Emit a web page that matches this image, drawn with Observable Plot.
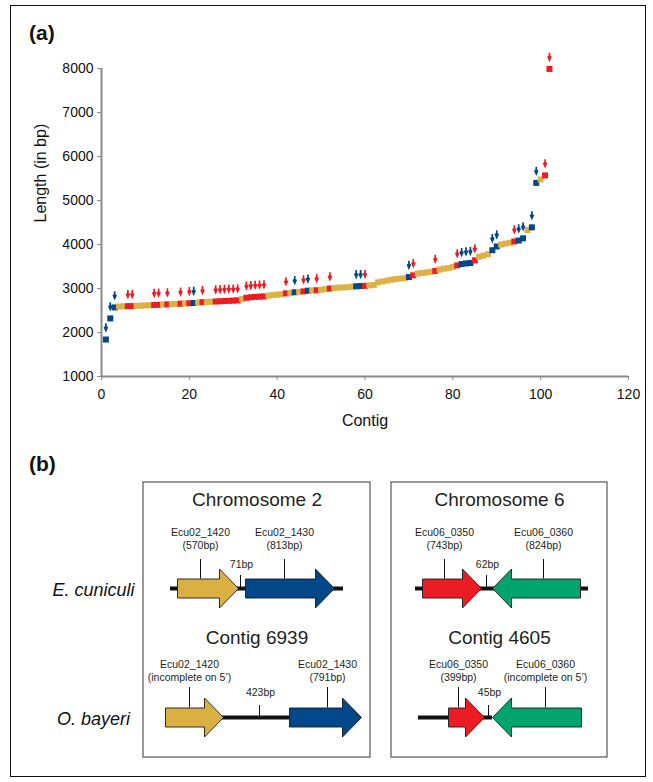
<!DOCTYPE html>
<html><head><meta charset="utf-8">
<script src="https://cdn.jsdelivr.net/npm/d3@7"></script>
<script src="https://cdn.jsdelivr.net/npm/@observablehq/plot@0.6"></script>
<style>
html,body{margin:0;padding:0;background:#fff;}
#fig{position:relative;width:653px;height:782px;font-family:"Liberation Sans",Arial,Helvetica,sans-serif;overflow:hidden;background:#fff}
#frame{position:absolute;left:10px;top:5px;width:636px;height:772px;border:1.5px solid #111;box-sizing:border-box}
.plab{position:absolute;font-weight:bold;font-size:21px;color:#111;line-height:1}
#pa{position:absolute;left:0;top:0}
#pb{position:absolute;left:0;top:440px}
</style></head>
<body>
<div id="fig">
  <div id="frame"></div>
  <div class="plab" style="left:29px;top:22px">(a)</div>
  <div class="plab" style="left:29px;top:453px">(b)</div>
  <div id="pa"></div>
  <div id="pb"></div>
</div>
<script>
// ---------- Panel (a) data ----------
const contigLength = [
  1840,2320,2570,2590,2595,2600,2600,2605,2610,2615,
  2620,2625,2630,2635,2640,2645,2650,2655,2660,2665,
  2670,2680,2690,2695,2700,2705,2710,2715,2720,2725,
  2730,2760,2790,2800,2810,2815,2820,2840,2850,2860,
  2870,2890,2900,2915,2925,2935,2950,2955,2960,2970,
  2985,3000,3010,3020,3025,3030,3040,3050,3055,3060,
  3070,3080,3140,3160,3180,3200,3215,3225,3235,3260,
  3300,3340,3355,3365,3380,3400,3430,3450,3465,3490,
  3525,3555,3570,3580,3640,3720,3750,3780,3870,3955,
  4000,4020,4040,4070,4090,4140,4330,4390,5400,5480,
  5570,7990];
const contigClass = [
  "B","B","B","Y","Y","R","R","Y","Y","Y",
  "Y","R","R","Y","R","Y","Y","R","Y","R",
  "B","Y","R","Y","Y","R","R","R","R","R",
  "R","Y","R","R","R","R","R","Y","Y","Y",
  "Y","R","Y","B","Y","R","B","Y","R","Y",
  "Y","R","Y","Y","Y","Y","Y","B","B","R",
  "Y","Y","Y","Y","Y","Y","Y","Y","Y","B",
  "R","Y","Y","Y","Y","R","Y","Y","Y","Y",
  "R","B","B","B","R","Y","Y","Y","B","B",
  "Y","Y","Y","R","B","B","Y","B","B","Y",
  "R","R"];
const classNames = ["Y","R","B"];
const classColors = ["#DDB244","#EC1C24","#00488A"];
const xTicks = [0,20,40,60,80,100,120];
const yTicks = [1000,2000,3000,4000,5000,6000,7000,8000];

const FONT = '"Liberation Sans", Arial, Helvetica, sans-serif';

const pts = contigLength.map((v,i)=>({contig:i+1, length:v, cls:contigClass[i]}));

// down-pointing marker arrow
const arrowSym = {draw(ctx){
  ctx.moveTo(-0.8,-5.2); ctx.lineTo(0.8,-5.2); ctx.lineTo(0.9,-2.2);
  ctx.lineTo(2.3,-1.2); ctx.lineTo(0,4.2); ctx.lineTo(-2.3,-1.2);
  ctx.lineTo(-0.9,-2.2); ctx.closePath();
}};

const pa = Plot.plot({
  width:653, height:440, marginLeft:101, marginRight:25, marginTop:68, marginBottom:64,
  style:{fontFamily:FONT, fontSize:"14px", color:"#111", background:"transparent"},
  x:{domain:[0,120]},
  y:{domain:[1000,8000]},
  color:{domain:classNames, range:classColors},
  marks:[
    Plot.axisX({ticks:xTicks, tickSize:4, tickPadding:9, stroke:"#8a8a8a", fontSize:14, label:null}),
    Plot.axisY({ticks:yTicks, tickSize:4, tickPadding:4, stroke:"#8a8a8a", fontSize:14, label:null, tickFormat:d=>String(d)}),
    Plot.ruleX([0],{stroke:"#8a8a8a", strokeWidth:2}),
    Plot.ruleY([1000],{stroke:"#8a8a8a", strokeWidth:2}),
    Plot.dot(pts,{x:"contig", y:"length", fill:"cls", symbol:"square", r:3.4}),
    Plot.dot(pts.filter(d=>d.cls!=="Y"),{x:"contig", y:"length", fill:"cls", symbol:arrowSym, r:3, dy:-11}),
    Plot.text(["Contig"],{frameAnchor:"bottom", dy:49, fontSize:16, fill:"#111"}),
    Plot.text(["Length (in bp)"],{frameAnchor:"left", rotate:-90, dx:-61, fontSize:16, fill:"#111"})
  ]
});
document.getElementById("pa").appendChild(pa);

// ---------- Panel (b) data (positions along each track, diagram units) ----------
const trackTitle = ["Chromosome 2","Chromosome 6","Contig 6939","Contig 4605"];
const trackBox = [0,1,0,1];
const trackRow = [0,0,1,1];
const backboneFrom = [170,415,222,418];
const backboneTo = [343,588,289,492];
const gapLabel = ["71bp","62bp","423bp","45bp"];
const gapAt = [240,486,259,488];
const geneName = ["Ecu02_1420","Ecu02_1430","Ecu06_0350","Ecu06_0360","Ecu02_1420","Ecu02_1430","Ecu06_0350","Ecu06_0360"];
const geneSize = ["(570bp)","(813bp)","(743bp)","(824bp)","(incomplete on 5\u2019)","(791bp)","(399bp)","(incomplete on 5\u2019)"];
const geneTrack = [0,0,1,1,2,2,3,3];
const geneFrom = [177,245,422,492,165,289,448,492];
const geneTo = [238,334,481,580,223,361,484,581];
const geneStrand = [1,1,1,-1,1,1,1,-1];
const geneStem = [200,284,444,543,189,327,458,545];
const geneFamily = ["1420","1430","0350","0360","1420","1430","0350","0360"];
const familyNames = ["1420","1430","0350","0360"];
const familyColors = ["#DBB043","#00488A","#EC1C24","#00A46C"];
const species = ["E. cuniculi","O. bayeri"];
const boxLeft = [143,391];
const boxRight = [370,607];

// layout (vertical positions per row)
const rowCenter = [588,717];
const titleBase = [505,643];
const nameBase = [535,667];
const sizeBase = [548,680];
const gapBase = [567,695];
const stemTop = [559,687];
const gapTickTop = [575,705];
const boxTop = 482, boxBottom = 757;
const speciesX = 93, speciesBase = [595,724];
const BODY = 9.5, HEAD = 19.5, HEADLEN = 19;

const tracks = trackTitle.map((t,i)=>({
  title:t, row:trackRow[i], box:trackBox[i],
  cx:(boxLeft[trackBox[i]]+boxRight[trackBox[i]])/2,
  from:backboneFrom[i], to:backboneTo[i], gap:gapLabel[i], gapAt:gapAt[i]
}));
const genes = geneName.map((n,i)=>({
  name:n, size:geneSize[i], track:geneTrack[i], row:trackRow[geneTrack[i]],
  from:geneFrom[i], to:geneTo[i], strand:geneStrand[i], stem:geneStem[i],
  color:familyColors[familyNames.indexOf(geneFamily[i])]
}));
function arrowPoly(g){
  const yc = rowCenter[g.row];
  if (g.strand>0){
    const hb = g.to-HEADLEN;
    return [[g.from,yc-BODY],[hb,yc-BODY],[hb,yc-HEAD],[g.to,yc],[hb,yc+HEAD],[hb,yc+BODY],[g.from,yc+BODY],[g.from,yc-BODY]];
  } else {
    const hb = g.from+HEADLEN;
    return [[g.to,yc-BODY],[hb,yc-BODY],[hb,yc-HEAD],[g.from,yc],[hb,yc+HEAD],[hb,yc+BODY],[g.to,yc+BODY],[g.to,yc-BODY]];
  }
}
const boxes = boxLeft.map((l,i)=>({x1:l, x2:boxRight[i]}));
const TXT = "#231f20";

const pb = Plot.plot({
  width:653, height:342, margin:0,
  style:{fontFamily:FONT, color:TXT, background:"transparent"},
  x:{domain:[0,653], axis:null},
  y:{domain:[440,782], reverse:true, axis:null},
  marks:[
    Plot.rect(boxes,{x1:"x1", x2:"x2", y1:()=>boxTop, y2:()=>boxBottom, fill:"none", stroke:"#555", strokeWidth:1.2}),
    Plot.text(tracks,{x:"cx", y:d=>titleBase[d.row], text:"title", fontSize:19, lineAnchor:"bottom", fill:TXT}),
    Plot.ruleY(tracks,{y:d=>rowCenter[d.row], x1:"from", x2:"to", stroke:"#111", strokeWidth:4, strokeLinecap:"butt"}),
    ...genes.map(g=>Plot.line(arrowPoly(g),{x:d=>d[0], y:d=>d[1], fill:g.color, stroke:"#1a1a1a", strokeWidth:0.9, strokeLinejoin:"miter", strokeLinecap:"butt", curve:"linear"})),
    Plot.ruleX(genes,{x:"stem", y1:d=>stemTop[d.row], y2:d=>rowCenter[d.row]-BODY, stroke:"#111", strokeWidth:1}),
    Plot.ruleX(tracks,{x:"gapAt", y1:d=>gapTickTop[d.row], y2:d=>rowCenter[d.row], stroke:"#111", strokeWidth:1}),
    Plot.text(genes,{x:"stem", y:d=>nameBase[d.row], text:"name", fontSize:10.5, lineAnchor:"bottom", fill:TXT}),
    Plot.text(genes,{x:"stem", y:d=>sizeBase[d.row], text:"size", fontSize:10.5, lineAnchor:"bottom", fill:TXT}),
    Plot.text(tracks,{x:d=>d.gapAt+1, y:d=>gapBase[d.row], text:"gap", fontSize:10.5, lineAnchor:"bottom", fill:TXT}),
    Plot.text(species,{x:()=>speciesX, y:(d,i)=>speciesBase[i], text:d=>d, fontSize:18, fontStyle:"italic", lineAnchor:"bottom", fill:"#111"})
  ]
});
document.getElementById("pb").appendChild(pb);
</script>
</body></html>
